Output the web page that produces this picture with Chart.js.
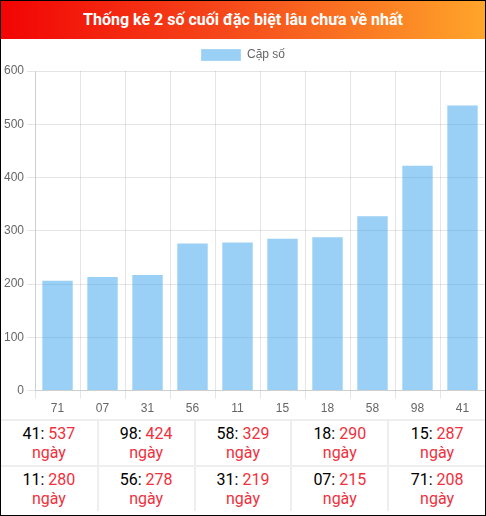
<!DOCTYPE html>
<html>
<head>
<meta charset="utf-8">
<script src="https://cdn.jsdelivr.net/npm/chart.js@4"></script>
<style>
  body { margin: 0; background: #fff; }
  .box { width: 484px; height: 514px; border: 1px solid #000; font-family: Roboto, Arial, sans-serif; overflow: hidden; }
  .head { height: 38px; line-height: 38px; text-align: center; color: #fff; font-weight: bold; font-size: 16px;
          background: linear-gradient(to right, #f20404, #f5461a 45%, #ffa52a); }
  .chartWrap { position: relative; width: 484px; height: 380px; }
  table { width: 100%; border-collapse: collapse; table-layout: fixed; }
  td { border: 2px solid #eee; text-align: center; font-size: 16px; line-height: 19px; height: 44px; padding: 0; color: #000; }
  td:first-child { border-left: none; }
  td:last-child { border-right: none; }
  tr:last-child td { border-bottom: none; }
  td span { color: #f0303c; }
</style>
</head>
<body>
<div class="box">
  <div class="head">Thống kê 2 số cuối đặc biệt lâu chưa về nhất</div>
  <div class="chartWrap"><canvas id="barChart"></canvas></div>
  <table id="tbl"></table>
</div>
<script>
// cặp số và số ngày chưa về
var labels = ['71', '07', '31', '56', '11', '15', '18', '58', '98', '41'];
var values = [208, 215, 219, 278, 280, 287, 290, 329, 424, 537];
var yTicks = [0, 100, 200, 300, 400, 500, 600];

// Data untuk bar chart
var data = {
  labels: labels,
  datasets: [{
    label: 'Cặp số',
    data: values,
    backgroundColor: 'rgba(54, 162, 235, 0.5)',
    borderColor: 'rgba(255, 255, 255, 0.25)',
    borderWidth: 1
  }]
};

var options = {
  responsive: true,
  maintainAspectRatio: false,
  animation: false,
  plugins: {
    legend: { labels: { color: '#666' } }
  },
  scales: {
    x: { ticks: { color: '#666' } },
    y: {
      min: yTicks[0],
      max: yTicks[yTicks.length - 1],
      ticks: { stepSize: yTicks[1] - yTicks[0], color: '#666' }
    }
  }
};

var ctx = document.getElementById('barChart').getContext('2d');
var barChart = new Chart(ctx, { type: 'bar', data: data, options: options });

// bang 2 baris, urut dari yang terbesar
var order = labels.map(function (l, i) { return i; }).sort(function (a, b) { return values[b] - values[a]; });
var html = '';
for (var r = 0; r < 2; r++) {
  html += '<tr>';
  for (var c = 0; c < 5; c++) {
    var i = order[r * 5 + c];
    html += '<td>' + labels[i] + ': <span>' + values[i] + '</span><br><span>ngày</span></td>';
  }
  html += '</tr>';
}
document.getElementById('tbl').innerHTML = html;
</script>
</body>
</html>
